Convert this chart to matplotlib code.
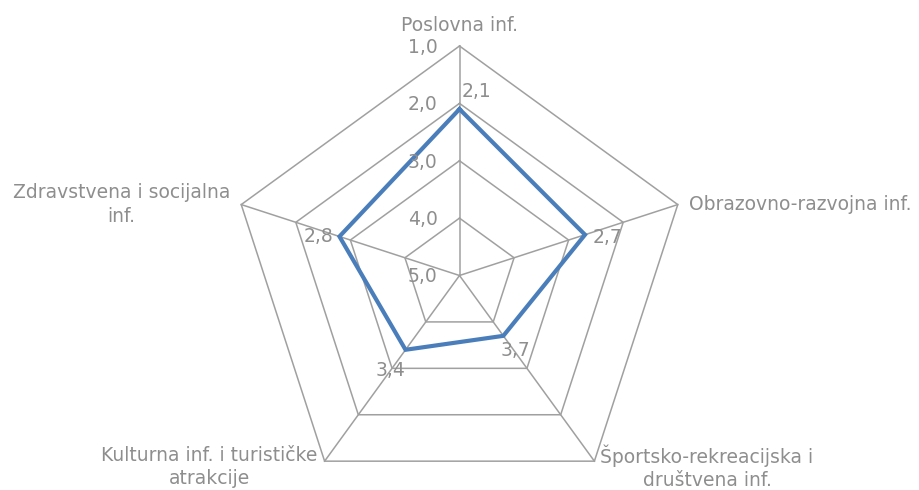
import numpy as np
import matplotlib
matplotlib.use("Agg")
import matplotlib.pyplot as plt

categories = ["Poslovna inf.", "Obrazovno-razvojna inf.",
              "Športsko-rekreacijska i\ndruštvena inf.",
              "Kulturna inf. i turističke\natrakcije",
              "Zdravstvena i socijalna\ninf."]
values = [2.1, 2.7, 3.7, 3.4, 2.8]
value_labels = ["2,1", "2,7", "3,7", "3,4", "2,8"]
levels = [1.0, 2.0, 3.0, 4.0, 5.0]
level_labels = ["1,0", "2,0", "3,0", "4,0", "5,0"]

GRID = "#a0a0a0"
TEXT = "#8e8e8e"
BLUE = "#4a7ebb"
FS = 13.5

W, H = 919, 490
fig = plt.figure(figsize=(W / 100, H / 100), dpi=100)
cx, cy, R = 459.5, 275.5, 229.5
ax = fig.add_axes([(cx - R) / W, (H - cy - R) / H, 2 * R / W, 2 * R / H], projection="polar")
ax.set_theta_zero_location("N")
ax.set_theta_direction(-1)
ax.set_ylim(5, 1)
ax.grid(False)
ax.set_xticks([])
ax.set_yticks([])
ax.spines["polar"].set_visible(False)
ax.patch.set_alpha(0)

n = len(categories)
theta = np.arange(n) * 2 * np.pi / n
th_closed = np.append(theta, theta[0])

for lv in levels[:-1]:
    ax.plot(th_closed, [lv] * (n + 1), color=GRID, lw=1.1, clip_on=False, zorder=1)
for t in theta:
    ax.plot([t, t], [levels[-1], levels[0]], color=GRID, lw=1.1, clip_on=False, zorder=1)

vals_closed = values + values[:1]
ax.plot(th_closed, vals_closed, color=BLUE, lw=3.0, clip_on=False, zorder=3,
        solid_joinstyle="miter")

# tick labels
for lv, lab in zip(levels, level_labels):
    ax.annotate(lab, (0, lv), xytext=(-22, -7), textcoords="offset pixels",
                ha="right", va="baseline", color=TEXT, fontsize=FS, annotation_clip=False)

# data labels
dl_offsets = [(2, 12, "left"), (8, -8, "left"), (-3, -20, "left"), (0, -26, "right"), (-6, -6, "right")]
for t, v, lab, (dx, dy, ha) in zip(theta, values, value_labels, dl_offsets):
    ax.annotate(lab, (t, v), xytext=(dx, dy), textcoords="offset pixels",
                ha=ha, va="baseline", color=TEXT, fontsize=FS, annotation_clip=False, zorder=4)

# category labels
cat_pos = [(0, 15, "center", "baseline"), (11, -5, "left", "baseline"),
           (6, -6, "left", "center"), (-7, -6, "right", "center"), (-11, 0, "right", "center")]
for t, lab, (dx, dy, ha, va) in zip(theta, categories, cat_pos):
    ax.annotate(lab, (t, levels[0]), xytext=(dx, dy), textcoords="offset pixels",
                ha=ha, va=va, multialignment="center", color=TEXT, fontsize=FS,
                annotation_clip=False, linespacing=1.3)

fig.savefig("out.png", dpi=100)
